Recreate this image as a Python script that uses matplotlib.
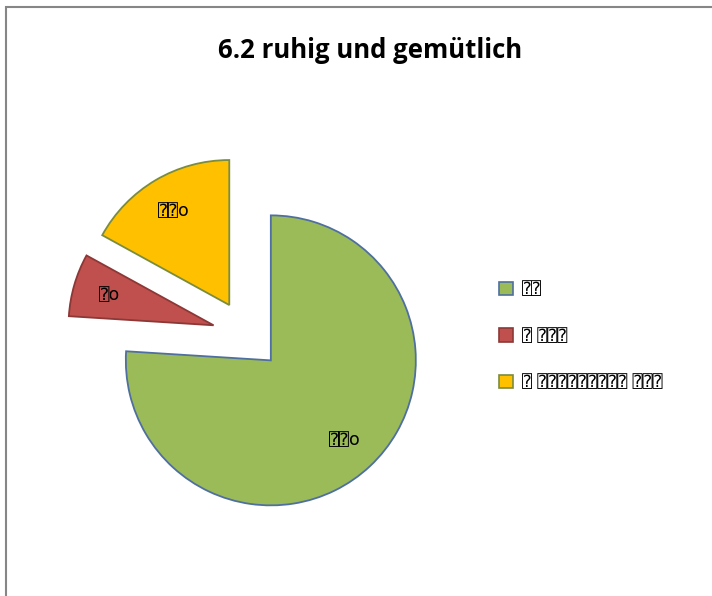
import matplotlib
matplotlib.use("Agg")
import matplotlib.pyplot as plt
from matplotlib.patches import Rectangle, Patch
import numpy as np

title = "6.2 ruhig und gemütlich"
categories = ["⍰⍰", "⍰ ⍰⍰⍰", "⍰ ⍰⍰⍰⍰⍰⍰⍰⍰⍰ ⍰⍰⍰"]
values = [76, 7, 17]
value_labels = ["⍰⍰o", "⍰o", "⍰⍰o"]
fill_colors = ["#9BBB59", "#C0504D", "#FFC000"]
edge_colors = ["#4F6FA0", "#8C3836", "#7A8C3D"]

W, H = 712, 596
fig = plt.figure(figsize=(W / 100, H / 100), dpi=100)
fig.patch.set_facecolor("white")

# chart border
fig.add_artist(Rectangle((6 / W, 0 - 0.02), 1.1, (H - 7) / H + 0.02,
                         transform=fig.transFigure, fill=False,
                         edgecolor="#868686", linewidth=1.5))

# pie axes: centre (247,335) px, radius 145 px
cx, cy, r = 247, 335, 145
half = 200
ax = fig.add_axes([(cx - half) / W, (H - cy - half) / H, 2 * half / W, 2 * half / H])

lab_iter = iter(value_labels)
wedges, _, autotexts = ax.pie(
    values, colors=fill_colors, startangle=90, counterclock=False,
    explode=[0.24, 0.24, 0.24], radius=1.0, center=(0, 0),
    autopct=lambda p: next(lab_iter), pctdistance=0.75,
    wedgeprops=dict(linewidth=1.3), frame=True,
    textprops=dict(fontsize=12.5, color="black",
                   family=["DejaVu Sans", "DejaVu Sans Mono"]))
ax.axis("off")
ax.set_aspect("equal")
ax.set_xlim(-half / r, half / r)
ax.set_ylim(-half / r, half / r)
for w, ec in zip(wedges, edge_colors):
    w.set_edgecolor(ec)

fig.text(370 / W, 1 - 51 / H, title, ha="center", va="center",
         fontsize=18.5, fontweight="bold", family="Open Sans")

# legend
handles = [Patch(facecolor=fc, edgecolor=ec, linewidth=1.2)
           for fc, ec in zip(fill_colors, edge_colors)]
fig.legend(handles, categories, loc="upper left",
           bbox_to_anchor=(484 / W, 1 - 265 / H), frameon=False,
           prop=dict(size=12, family=["DejaVu Sans", "DejaVu Sans Mono"]),
           handlelength=0.85, handleheight=0.85, handletextpad=0.5,
           labelspacing=1.72)

fig.savefig("out.png", dpi=100)
